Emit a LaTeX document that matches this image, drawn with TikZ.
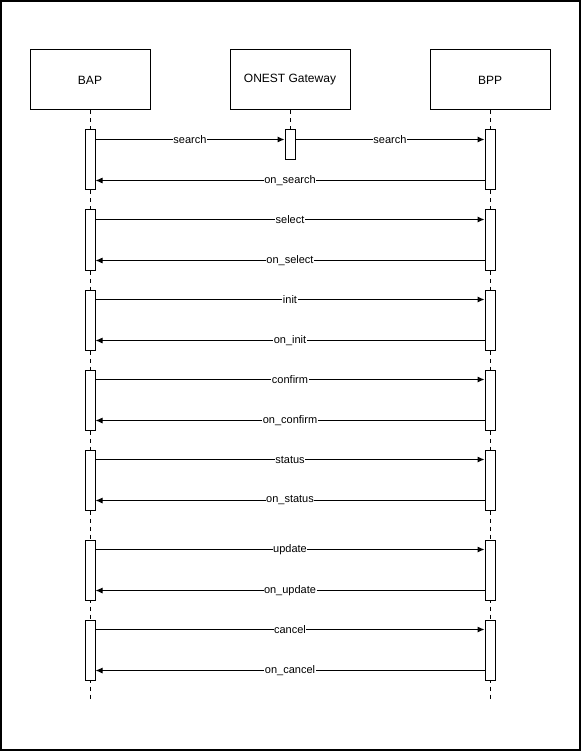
\documentclass[tikz,border=0pt]{standalone}
\usepackage{fontspec}
\setmainfont{Liberation Sans}
\usepackage{tikz}
\usetikzlibrary{arrows.meta}

\tikzset{
  actor/.style={draw, line width=1pt, minimum width=120pt, minimum height=60pt, inner sep=0pt, font=\fontsize{12}{14}\selectfont},
  bar/.style={draw, fill=white, line width=1pt, minimum width=10pt, inner sep=0pt},
  lifeline/.style={dashed, line width=0.8pt, dash pattern=on 4pt off 4pt},
  msg/.style={line width=1pt, -{Latex[length=7pt,width=6pt]}},
  lbl/.style={midway, fill=white, inner sep=0.5pt, font=\fontsize{11}{13}\selectfont}
}

\begin{document}
\begin{tikzpicture}[x=1pt, y=-1pt]
\useasboundingbox (0,0) rectangle (581,751);
% Frame
\draw[line width=2pt] (1,1) rectangle (580,750);

% Participants
\node[actor] (bap) at (90,80) {BAP};
\node[actor] (gw) at (290,80) {ONEST Gateway};
\node[actor] (bpp) at (490,80) {BPP};

% Lifelines
\coordinate (bapend) at (90,700);
\coordinate (bppend) at (490,700);
\draw[lifeline] (bap.south) -- (bapend);
\draw[lifeline] (bpp.south) -- (bppend);
\draw[lifeline] (gw.south) -- (290,130);

% Activation bars
\node[bar, minimum height=60pt] (bap1) at (90,160) {};
\node[bar, minimum height=30pt] (gw1) at (290,145) {};
\node[bar, minimum height=60pt] (bpp1) at (490,160) {};
\node[bar, minimum height=60pt] (bap2) at (90,240) {};
\node[bar, minimum height=60pt] (bpp2) at (490,240) {};
\node[bar, minimum height=60pt] (bap3) at (90,320) {};
\node[bar, minimum height=60pt] (bpp3) at (490,320) {};
\node[bar, minimum height=60pt] (bap4) at (90,400) {};
\node[bar, minimum height=60pt] (bpp4) at (490,400) {};
\node[bar, minimum height=60pt] (bap5) at (90,480) {};
\node[bar, minimum height=60pt] (bpp5) at (490,480) {};
\node[bar, minimum height=60pt] (bap6) at (90,570) {};
\node[bar, minimum height=60pt] (bpp6) at (490,570) {};
\node[bar, minimum height=60pt] (bap7) at (90,650) {};
\node[bar, minimum height=60pt] (bpp7) at (490,650) {};

% Search
\draw[msg] ([yshift=-10pt]bap1.north east) -- ([yshift=-10pt]gw1.north west) node[lbl] {search};
\draw[msg] ([yshift=-10pt]gw1.north east) -- ([yshift=-10pt]bpp1.north west) node[lbl] {search};
\draw[msg] ([yshift=10pt]bpp1.south west) -- ([yshift=10pt]bap1.south east) node[lbl] {on\_search};

% Select
\draw[msg] ([yshift=-10pt]bap2.north east) -- ([yshift=-10pt]bpp2.north west) node[lbl] {select};
\draw[msg] ([yshift=10pt]bpp2.south west) -- ([yshift=10pt]bap2.south east) node[lbl] {on\_select};

% Init
\draw[msg] ([yshift=-10pt]bap3.north east) -- ([yshift=-10pt]bpp3.north west) node[lbl] {init};
\draw[msg] ([yshift=10pt]bpp3.south west) -- ([yshift=10pt]bap3.south east) node[lbl] {on\_init};

% Confirm
\draw[msg] ([yshift=-10pt]bap4.north east) -- ([yshift=-10pt]bpp4.north west) node[lbl] {confirm};
\draw[msg] ([yshift=10pt]bpp4.south west) -- ([yshift=10pt]bap4.south east) node[lbl] {on\_confirm};

% Status
\draw[msg] ([yshift=-10pt]bap5.north east) -- ([yshift=-10pt]bpp5.north west) node[lbl] {status};
\draw[msg] ([yshift=10pt]bpp5.south west) -- ([yshift=10pt]bap5.south east) node[lbl] {on\_status};

% Update
\draw[msg] ([yshift=-10pt]bap6.north east) -- ([yshift=-10pt]bpp6.north west) node[lbl] {update};
\draw[msg] ([yshift=10pt]bpp6.south west) -- ([yshift=10pt]bap6.south east) node[lbl] {on\_update};

% Cancel
\draw[msg] ([yshift=-10pt]bap7.north east) -- ([yshift=-10pt]bpp7.north west) node[lbl] {cancel};
\draw[msg] ([yshift=10pt]bpp7.south west) -- ([yshift=10pt]bap7.south east) node[lbl] {on\_cancel};
\end{tikzpicture}
\end{document}
